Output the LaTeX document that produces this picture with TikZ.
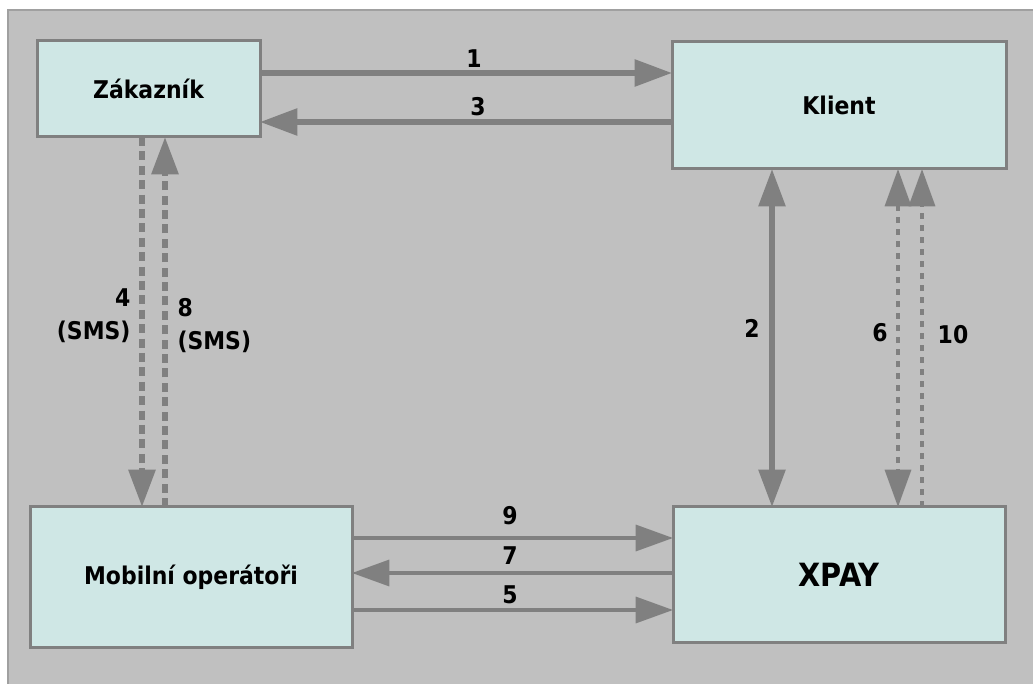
\documentclass[tikz,border=0pt]{standalone}
\usepackage{fontspec}
\setmainfont{DejaVu Sans}[FakeStretch=0.9]
\usetikzlibrary{arrows.meta}

\definecolor{bggray}{RGB}{192,192,192}
\definecolor{bgline}{RGB}{160,160,160}
\definecolor{boxfill}{RGB}{207,231,229}
\definecolor{linegray}{RGB}{128,128,128}

\tikzset{every picture/.style={line width=0.75pt}}
\tikzset{
  box/.style={draw=linegray, fill=boxfill, line width=2.25pt, inner sep=0pt, outer sep=0pt,
    font=\bfseries\fontsize{18.3}{22}\selectfont},
  lbl/.style={inner sep=0pt, font=\bfseries\fontsize{18.3}{24.75}\selectfont},
  tip/.style={-{Triangle[length=28pt,width=19.5pt]}},
  twotip/.style={{Triangle[length=28pt,width=19.5pt]}-{Triangle[length=28pt,width=19.5pt]}},
  fatline/.style={draw=linegray, line width=4.2pt},
  thinline/.style={draw=linegray, line width=2.5pt},
  smsline/.style={draw=linegray, line width=4.5pt, dash pattern=on 6.8pt off 4pt},
  dotline/.style={draw=linegray, line width=2.6pt, dash pattern=on 4.5pt off 4.5pt}
}

\begin{document}
\begin{tikzpicture}[x=0.75pt,y=0.75pt,yscale=-1,xscale=1]
\useasboundingbox (0,0) rectangle (1033,684);

%Shape: Rectangle (background)
\fill [bggray] (8,10) rectangle (1033,684);
\draw [bgline, line width=0.9pt] (8,684) -- (8,10) -- (1033,10);

%Shape: Rectangle
\node [box, minimum width=167.25pt, minimum height=72pt] (zak) at (148.5,89) {Zákazník};
%Shape: Rectangle
\node [box, minimum width=250.5pt, minimum height=95.25pt] (kli) at (839,105.5) {Klient};
%Shape: Rectangle
\node [box, minimum width=241.5pt, minimum height=105pt] (mob) at (191,577) {Mobilní operátoři};
%Shape: Rectangle
\node [box, minimum width=249pt, minimum height=101.25pt, font=\bfseries\fontsize{24}{28}\selectfont] (xpay) at (839,574.5) {XPAY};

%Straight Lines
\draw [fatline, tip] (zak.east |- 0,73) -- (kli.west |- 0,73);
\draw [fatline, tip] (kli.west |- 0,122) -- (zak.east |- 0,122);
%Straight Lines
\draw [fatline, twotip] (kli.south -| 772,0) -- (xpay.north -| 772,0);
\draw [dotline, twotip] (kli.south -| 898,0) -- (xpay.north -| 898,0);
\draw [dotline, tip] (xpay.north -| 922,0) -- (kli.south -| 922,0);
%Straight Lines
\draw [smsline, tip] (zak.south -| 142,0) -- (mob.north -| 142,0);
\draw [smsline, tip] (mob.north -| 165,0) -- (zak.south -| 165,0);
%Straight Lines
\draw [thinline, tip] (mob.east |- 0,538) -- (xpay.west |- 0,538);
\draw [thinline, tip] (xpay.west |- 0,573) -- (mob.east |- 0,573);
\draw [thinline, tip] (mob.east |- 0,610) -- (xpay.west |- 0,610);

% Text Node
\node [lbl] (n1) at (474,59) {1};
% Text Node
\node [lbl] (n3) at (478,107) {3};
% Text Node
\node [lbl] (n2) at (752,328) {2};
% Text Node
\node [lbl] (n6) at (880,333) {6};
% Text Node
\node [lbl] (n10) at (953,335) {10};
% Text Node
\node [lbl, anchor=east, align=right] (n4) at (131,316) {4\\(SMS)};
% Text Node
\node [lbl, anchor=west, align=left] (n8) at (177,326) {8\\(SMS)};
% Text Node
\node [lbl] (n9) at (510,516) {9};
% Text Node
\node [lbl] (n7) at (510,556) {7};
% Text Node
\node [lbl] (n5) at (510,595) {5};

\end{tikzpicture}
\end{document}
